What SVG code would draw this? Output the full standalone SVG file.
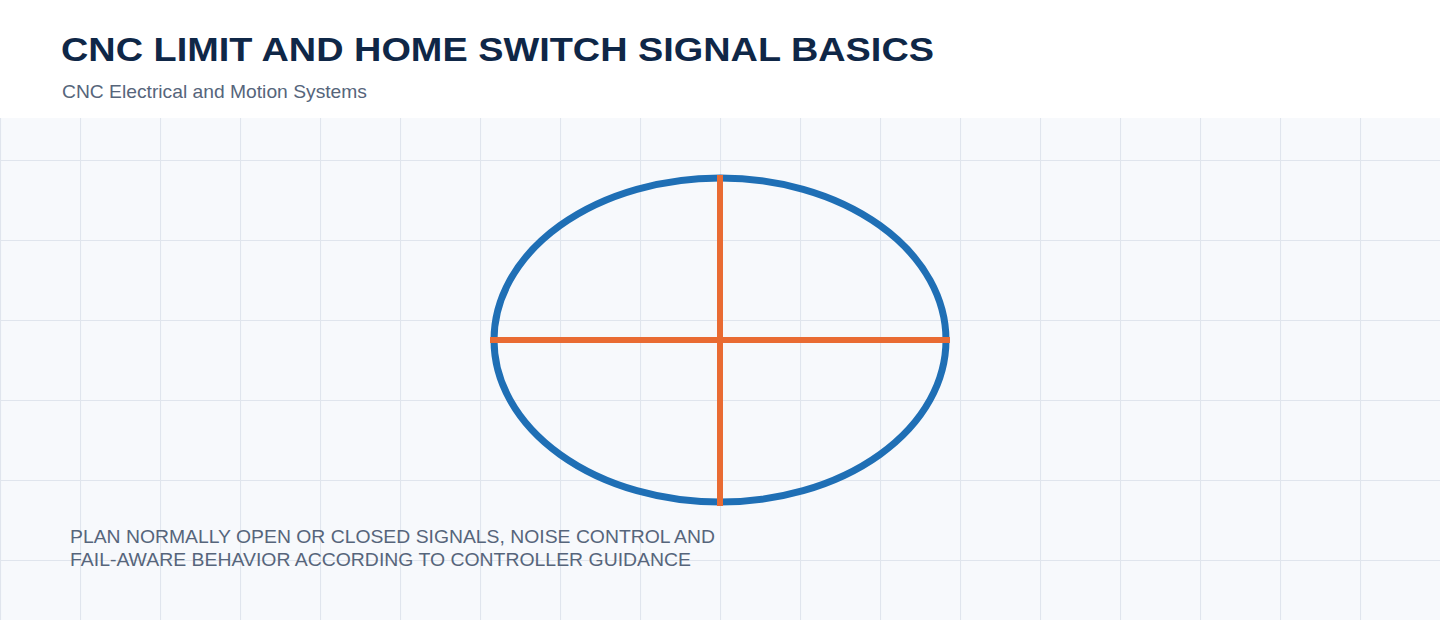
<svg xmlns="http://www.w3.org/2000/svg" width="1440" height="620" viewBox="0 0 1440 620">
  <defs>
    <pattern id="grid" x="0" y="0" width="80" height="80" patternUnits="userSpaceOnUse">
      <path d="M80 0.5 L0.5 0.5 L0.5 80" fill="none" stroke="#e0e5ed" stroke-width="1.2"/>
    </pattern>
    <style>
      .title { font-family: "Liberation Sans", Arial, sans-serif; font-weight: bold; font-size: 34px; fill: #0f2747; }
      .subtitle { font-family: "Liberation Sans", Arial, sans-serif; font-size: 19px; fill: #56657b; }
      .note { font-family: "Liberation Sans", Arial, sans-serif; font-size: 19px; fill: #56657b; }
      .ring { fill: none; stroke: #1f6fb5; stroke-width: 7; }
      .axis { stroke: #e96b33; stroke-width: 6; }
    </style>
  </defs>
  <rect x="0" y="0" width="1440" height="620" fill="#ffffff"/>
  <rect x="0" y="118" width="1440" height="502" fill="#f7f9fc"/>
  <rect x="0" y="118" width="1440" height="502" fill="url(#grid)"/>

  <g id="header">
    <text class="title" x="61" y="61" textLength="873" lengthAdjust="spacingAndGlyphs">CNC LIMIT AND HOME SWITCH SIGNAL BASICS</text>
    <text class="subtitle" x="62" y="98" textLength="305" lengthAdjust="spacingAndGlyphs">CNC Electrical and Motion Systems</text>
  </g>

  <g id="ellipse">
    <ellipse class="ring" cx="720" cy="340" rx="226" ry="162"/>
  </g>

  <g id="connectors">
    <line class="axis" x1="490" y1="340" x2="950" y2="340"/>
    <line class="axis" x1="720" y1="175" x2="720" y2="506"/>
  </g>

  <g id="note">
    <text class="note" x="70" y="543" textLength="645" lengthAdjust="spacingAndGlyphs">PLAN NORMALLY OPEN OR CLOSED SIGNALS, NOISE CONTROL AND</text>
    <text class="note" x="70" y="566" textLength="621" lengthAdjust="spacingAndGlyphs">FAIL-AWARE BEHAVIOR ACCORDING TO CONTROLLER GUIDANCE</text>
  </g>
</svg>
